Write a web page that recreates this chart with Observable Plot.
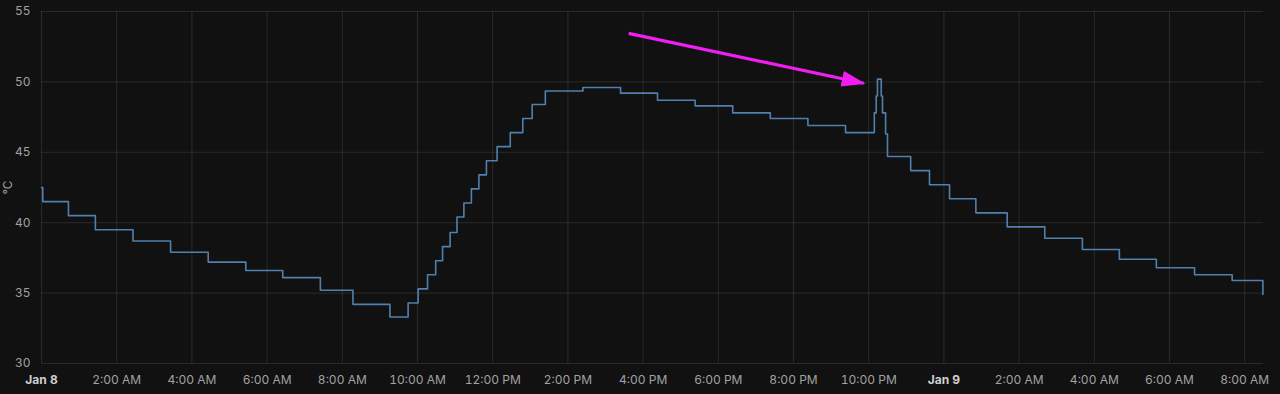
<!DOCTYPE html>
<html><head><meta charset="utf-8">
<script src="https://cdn.jsdelivr.net/npm/d3@7"></script>
<script src="https://cdn.jsdelivr.net/npm/@observablehq/plot@0.6"></script>
<style>
html,body{margin:0;padding:0;background:#111111;overflow:hidden;}
#chart svg{display:block;}
</style></head><body><div id="chart"></div>
<script>
// Temperature readings (step series)
const times = [
  "2023-01-08T00:00","2023-01-08T00:02","2023-01-08T00:43","2023-01-08T01:26","2023-01-08T02:26",
  "2023-01-08T03:26","2023-01-08T04:26","2023-01-08T05:26","2023-01-08T06:25","2023-01-08T07:25",
  "2023-01-08T08:17","2023-01-08T09:16","2023-01-08T09:45","2023-01-08T10:01","2023-01-08T10:16",
  "2023-01-08T10:29","2023-01-08T10:40","2023-01-08T10:52","2023-01-08T11:03","2023-01-08T11:14",
  "2023-01-08T11:26","2023-01-08T11:38","2023-01-08T11:50","2023-01-08T12:07","2023-01-08T12:28",
  "2023-01-08T12:48","2023-01-08T13:03","2023-01-08T13:24","2023-01-08T14:24","2023-01-08T15:24",
  "2023-01-08T16:23","2023-01-08T17:23","2023-01-08T18:23","2023-01-08T19:23","2023-01-08T20:23",
  "2023-01-08T21:23","2023-01-08T22:09","2023-01-08T22:12","2023-01-08T22:14","2023-01-08T22:20",
  "2023-01-08T22:22","2023-01-08T22:27","2023-01-08T22:30","2023-01-08T23:07","2023-01-08T23:37",
  "2023-01-09T00:09","2023-01-09T00:51","2023-01-09T01:41","2023-01-09T02:41","2023-01-09T03:41",
  "2023-01-09T04:40","2023-01-09T05:39","2023-01-09T06:40","2023-01-09T07:40","2023-01-09T08:29"
];
const values = [
  42.5,41.5,40.5,39.5,38.7,
  37.9,37.2,36.6,36.1,35.2,
  34.2,33.3,34.3,35.3,36.3,
  37.3,38.3,39.3,40.4,41.4,
  42.4,43.4,44.4,45.4,46.4,
  47.4,48.4,49.35,49.6,49.2,
  48.7,48.3,47.8,47.4,46.9,
  46.4,47.8,49.0,50.2,49.0,
  47.8,46.3,44.7,43.7,42.7,
  41.7,40.7,39.7,38.9,38.1,
  37.4,36.8,36.3,35.9,34.9
];
const xDomain = ["2023-01-08T00:00","2023-01-09T08:30"];
const yDomain = [30,55];
const yTicks = [30,35,40,45,50,55];
const xTicks = [
  "2023-01-08T00:00","2023-01-08T02:00","2023-01-08T04:00","2023-01-08T06:00","2023-01-08T08:00",
  "2023-01-08T10:00","2023-01-08T12:00","2023-01-08T14:00","2023-01-08T16:00","2023-01-08T18:00",
  "2023-01-08T20:00","2023-01-08T22:00","2023-01-09T00:00","2023-01-09T02:00","2023-01-09T04:00",
  "2023-01-09T06:00","2023-01-09T08:00"
];
const xTickLabels = [
  "Jan 8","2:00 AM","4:00 AM","6:00 AM","8:00 AM","10:00 AM","12:00 PM","2:00 PM","4:00 PM",
  "6:00 PM","8:00 PM","10:00 PM","Jan 9","2:00 AM","4:00 AM","6:00 AM","8:00 AM"
];
const dayTicks = ["2023-01-08T00:00","2023-01-09T00:00"];
// Annotation arrow (start → end) in data coordinates
const arrowTimes = ["2023-01-08T15:37","2023-01-08T21:52"];
const arrowValues = [53.45,49.9];

const parse = s => new Date(s);
const data = times.map((t,i) => ({time: parse(t), value: values[i]}));
const tickDates = xTicks.map(parse);
const labelMap = new Map(tickDates.map((d,i) => [+d, xTickLabels[i]]));
const daySet = new Set(dayTicks.map(s => +parse(s)));
const dayDates = tickDates.filter(d => daySet.has(+d));
const hourDates = tickDates.filter(d => !daySet.has(+d));
const arrow = [{x1: parse(arrowTimes[0]), y1: arrowValues[0], x2: parse(arrowTimes[1]), y2: arrowValues[1]}];

const gridColor = "#d0d0d0";
const textColor = "#a2a2a2";

const chart = Plot.plot({
  width: 1280,
  height: 394,
  marginLeft: 41,
  marginRight: 17,
  marginTop: 11,
  marginBottom: 31,
  style: {background: "#111111", fontFamily: "Inter, 'Noto Sans', sans-serif", fontSize: "12px", color: textColor},
  x: {type: "time", domain: xDomain.map(parse)},
  y: {domain: yDomain},
  marks: [
    Plot.gridY(yTicks, {stroke: gridColor, strokeOpacity: 0.13}),
    Plot.gridX(tickDates, {stroke: gridColor, strokeOpacity: 0.13}),
    Plot.axisY(yTicks, {tickSize: 0, tickPadding: 11, fill: textColor, fontSize: 12,
      label: "°C", labelAnchor: "center", labelOffset: 38, labelArrow: "none"}),
    Plot.axisX(hourDates, {tickSize: 0, tickPadding: 12, fill: textColor, fontSize: 12,
      tickFormat: d => labelMap.get(+d), label: null}),
    Plot.axisX(dayDates, {tickSize: 0, tickPadding: 12, fill: "#cfcfcf", fontSize: 12, fontWeight: "bold",
      tickFormat: d => labelMap.get(+d), label: null}),
    Plot.line(data, {x: "time", y: "value", curve: "step-after", stroke: "#5080ad", strokeWidth: 1.6}),
    Plot.link(arrow, {x1: "x1", y1: "y1", x2: "x2", y2: "y2", stroke: "#f01ef0", strokeWidth: 3.2})
  ]
});

// filled arrowhead marker on the annotation link
const svg = d3.select(chart);
const defs = svg.insert("defs", ":first-child");
defs.append("marker")
  .attr("id", "arrowhead")
  .attr("viewBox", "0 0 24 16")
  .attr("refX", 22).attr("refY", 8)
  .attr("markerWidth", 24).attr("markerHeight", 16)
  .attr("markerUnits", "userSpaceOnUse")
  .attr("orient", "auto")
  .append("path").attr("d", "M0,0L24,8L0,16Z").attr("fill", "#f01ef0");
svg.selectAll("g[aria-label='link'] path").attr("marker-end", "url(#arrowhead)");

document.getElementById("chart").appendChild(chart);
</script>
</body></html>
